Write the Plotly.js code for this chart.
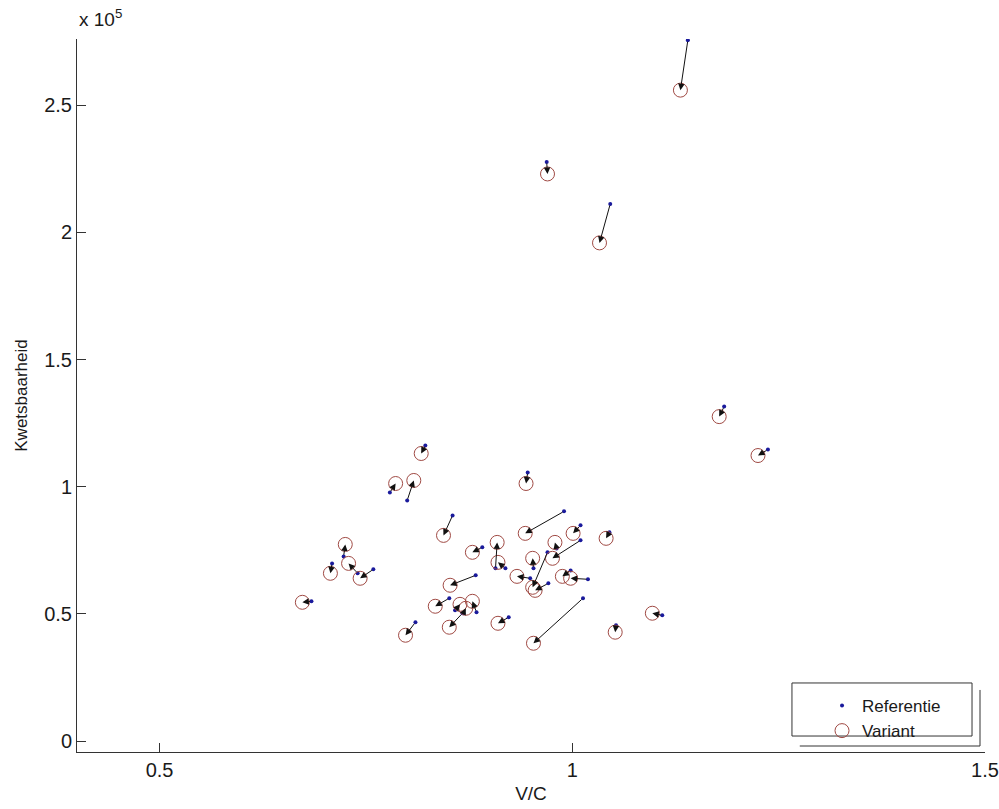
<!DOCTYPE html>
<html>
<head>
<meta charset="utf-8">
<script src="https://cdn.plot.ly/plotly-3.0.1.min.js"></script>
<style>html,body{margin:0;padding:0;background:#fff;}#chart{width:999px;height:809px;}</style>
</head>
<body>
<div id="chart"></div>
<script>
// Reference (blue dots) and Variant (red circles), V/C vs Kwetsbaarheid
const refX = [1.140, 0.969, 1.046, 1.184, 1.237, 0.822, 0.779, 0.800, 0.855, 0.891, 0.907, 0.919, 0.949, 0.883, 0.851, 0.858, 0.868, 0.884, 0.867, 0.923, 0.810, 0.723, 0.740, 0.709, 0.759, 0.684, 0.990, 1.010, 1.045, 1.010, 0.981, 0.970, 0.971, 0.953, 0.998, 1.019, 1.013, 1.109, 1.053, 0.946];
const refY = [275500, 227650, 211150, 131500, 114600, 116200, 97700, 94600, 88700, 76150, 67900, 67900, 64000, 65150, 56150, 51400, 50250, 50650, 50250, 48650, 46700, 72600, 65950, 69850, 67500, 54950, 90300, 84800, 82050, 78900, 75750, 74200, 62000, 67900, 67100, 63600, 56150, 49450, 45550, 105600];
const varX = [1.131, 0.970, 1.033, 1.178, 1.225, 0.817, 0.786, 0.808, 0.844, 0.879, 0.909, 0.910, 0.933, 0.852, 0.834, 0.864, 0.871, 0.879, 0.851, 0.910, 0.798, 0.725, 0.729, 0.707, 0.743, 0.673, 0.943, 1.001, 1.041, 0.976, 0.979, 0.952, 0.955, 0.952, 0.988, 0.998, 0.953, 1.097, 1.052, 0.944];
const varY = [255900, 222950, 195850, 127550, 112250, 113050, 101250, 102450, 80850, 74200, 78100, 70250, 64750, 61250, 53000, 53750, 52200, 54950, 44750, 46300, 41600, 77300, 69850, 65950, 64000, 54550, 81650, 81650, 79700, 71850, 78100, 60450, 59250, 71850, 64750, 64000, 38450, 50250, 42800, 101250];

const xTickVals = [0.5, 1, 1.5];
const xTickText = ['0.5', '1', '1.5'];
const yTickVals = [0, 50000, 100000, 150000, 200000, 250000];
const yTickText = ['0', '0.5', '1', '1.5', '2', '2.5'];

const FONT = 'Liberation Sans, Arial, sans-serif';
const TXT = '#1a1a1a';

const traces = [
  {
    x: refX, y: refY, mode: 'markers', type: 'scatter', name: 'Referentie',
    marker: {symbol: 'circle', size: 4, color: '#1a1a9c'}
  },
  {
    x: varX, y: varY, mode: 'markers', type: 'scatter', name: 'Variant',
    marker: {symbol: 'circle-open', size: 14, color: '#a04a44', line: {width: 1, color: '#a04a44'}}
  }
];

const arrows = refX.map((_, i) => ({
  x: varX[i], y: varY[i], ax: refX[i], ay: refY[i],
  xref: 'x', yref: 'y', axref: 'x', ayref: 'y',
  text: '', showarrow: true, arrowhead: 2, arrowsize: 1.3, arrowwidth: 1,
  arrowcolor: '#111', standoff: 0, startstandoff: 0
}));

arrows.push({
  xref: 'paper', yref: 'paper', x: 0, y: 1.01, xanchor: 'left', yanchor: 'bottom',
  text: 'x 10<sup>5</sup>', showarrow: false, font: {family: FONT, size: 19, color: TXT}
});

const layout = {
  width: 999, height: 809,
  margin: {l: 77, r: 14, t: 39, b: 57},
  paper_bgcolor: '#fff', plot_bgcolor: '#fff',
  showlegend: true,
  legend: {
    x: 0.8205, y: 0.0898, xanchor: 'left', yanchor: 'top',
    bgcolor: 'rgba(0,0,0,0)', borderwidth: 0,
    font: {family: FONT, size: 17, color: TXT}
  },
  xaxis: {
    range: [0.4, 1.5], tickvals: xTickVals, ticktext: xTickText,
    ticks: 'inside', ticklen: 9, tickcolor: '#333', showline: true, linecolor: '#333', linewidth: 1,
    showgrid: false, zeroline: false, mirror: false,
    tickfont: {family: FONT, size: 20, color: TXT},
    title: {text: 'V/C', font: {family: FONT, size: 19, color: TXT}, standoff: 6}
  },
  yaxis: {
    range: [-4300, 276000], tickvals: yTickVals, ticktext: yTickText,
    ticks: 'inside', ticklen: 9, tickcolor: '#333', showline: true, linecolor: '#333', linewidth: 1,
    showgrid: false, zeroline: false, mirror: false,
    tickfont: {family: FONT, size: 20, color: TXT},
    title: {text: 'Kwetsbaarheid', font: {family: FONT, size: 17, color: TXT}, standoff: 12}
  },
  annotations: arrows,
  shapes: [
    {type: 'rect', xref: 'paper', yref: 'paper', x0: 0.7874, x1: 0.9857, y0: 0.0224, y1: 0.0968,
     line: {color: '#333', width: 1}, fillcolor: 'rgba(255,255,255,0)', layer: 'below'},
    {type: 'line', xref: 'paper', yref: 'paper', x0: 0.9945, x1: 0.9945, y0: 0.087, y1: 0.0084,
     line: {color: '#333', width: 1}},
    {type: 'line', xref: 'paper', yref: 'paper', x0: 0.796, x1: 0.9945, y0: 0.0084, y1: 0.0084,
     line: {color: '#333', width: 1}}
  ]
};

Plotly.newPlot('chart', traces, layout, {displayModeBar: false, staticPlot: true});
</script>
</body>
</html>
